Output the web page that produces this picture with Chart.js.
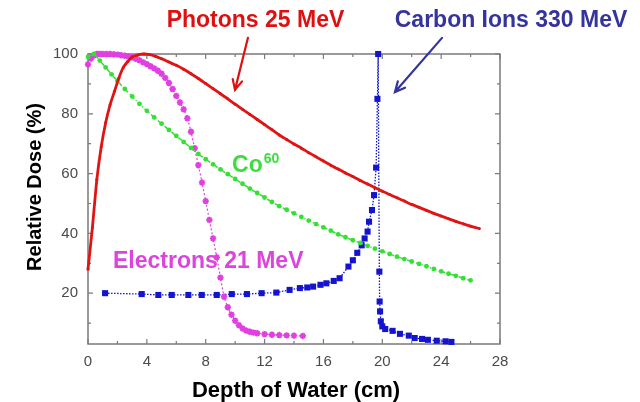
<!DOCTYPE html>
<html>
<head>
<meta charset="utf-8">
<script src="https://cdn.jsdelivr.net/npm/chart.js@4.4.1/dist/chart.umd.min.js"></script>
<style>
  html, body { margin: 0; padding: 0; background: #ffffff; }
  #wrap { width: 640px; height: 402px; position: relative; }
</style>
</head>
<body>
<div id="wrap"><canvas id="depthDose" width="640" height="402"></canvas></div>
<script>
// Depth (cm) and relative dose (%) for each beam
const photonDepth = [0, 0.3, 0.6, 0.9, 1.2, 1.5, 1.8, 2.1, 2.4, 2.7, 3.0, 3.4, 3.8, 4.2, 4.6, 5.0,
  5.5, 6.0, 6.5, 7.0, 7.5, 8.0, 8.5, 9.0, 9.5, 10.0, 10.5, 11.0, 11.5, 12.0, 12.5, 13.0, 13.5, 14.0,
  14.5, 15.0, 15.5, 16.0, 16.5, 17.0, 17.5, 18.0, 18.5, 19.0, 19.5, 20.0, 20.5, 21.0, 21.5, 22.0,
  22.5, 23.0, 23.5, 24.0, 24.5, 25.0, 25.5, 26.0, 26.6];
const photonDose = [28, 42, 58, 69, 77, 83, 87.5, 92, 95.5, 97.5, 99, 99.7, 100, 99.8, 99.2, 98.4,
  97.3, 96.2, 94.9, 93.4, 91.8, 90.1, 88.4, 86.7, 85, 83.2, 81.5, 79.8, 78.1, 76.4, 74.7, 72.9, 71.4, 69.9,
  68.5, 67, 65.6, 64.2, 62.8, 61.5, 60.2, 59, 57.7, 56.5, 55.3, 54.1, 53, 51.9, 50.8, 49.7,
  48.7, 47.7, 46.7, 45.8, 44.9, 44, 43.2, 42.4, 41.6];

const cobaltDepth = [0, 0.4, 0.8, 1.2, 1.6, 2.0, 2.5, 3.0, 3.5, 4.0, 4.5, 5.0, 5.5, 6.0, 6.5, 7.0,
  7.5, 8.0, 8.5, 9.0, 9.5, 10.0, 10.5, 11.0, 11.5, 12.0, 12.5, 13.0, 13.5, 14.0, 14.5, 15.0, 15.5,
  16.0, 16.5, 17.0, 17.5, 18.0, 18.5, 19.0, 19.5, 20.0, 20.5, 21.0, 21.5, 22.0, 22.5, 23.0, 23.5,
  24.0, 24.5, 25.0, 25.5, 26.0];
const cobaltDose = [99, 100, 97.8, 95.5, 93.2, 91, 88.3, 85.8, 83.3, 81, 78.8, 76.7, 74.6, 72.6, 70.6, 68.6,
  66.6, 64.8, 63.1, 61.4, 59.8, 58.2, 56.6, 55, 53.5, 52, 50.5, 49.1, 47.9, 46.7, 45.5, 44.3, 43.1,
  42, 40.9, 39.7, 38.7, 37.7, 36.8, 35.8, 34.9, 34, 33.1, 32.2, 31.4, 30.6, 29.8, 29, 28.1,
  27.3, 26.5, 25.8, 25, 24.3];

const electronDepth = [0, 0.2, 0.4, 0.6, 0.8, 1.0, 1.25, 1.5, 1.75, 2.0, 2.25, 2.5, 2.75, 3.0, 3.25,
  3.5, 3.75, 4.0, 4.25, 4.5, 4.75, 5.0, 5.25, 5.5, 5.75, 6.0, 6.25, 6.5, 6.75, 7.0, 7.25, 7.5, 7.75,
  8.0, 8.25, 8.5, 8.75, 9.0, 9.25, 9.5, 9.75, 10.0, 10.25, 10.5, 10.75, 11.0, 11.25, 11.5, 12.0,
  12.5, 13.0, 13.5, 14.0, 14.6];
const electronDose = [96.5, 98.5, 99.5, 100, 100, 100, 100, 100, 99.9, 99.8, 99.6, 99.4, 99.2, 98.9, 98.4,
  97.9, 97.2, 96.6, 95.9, 95.2, 94.4, 93.4, 92, 90.3, 88.3, 86, 83.8, 81.5, 78.5, 74, 68.5, 62.8, 57,
  50.8, 44.5, 38.3, 32, 25.2, 18.8, 15.3, 12.8, 10.8, 9.3, 8.2, 7.5, 7.1, 6.8, 6.6, 6.3,
  6.1, 6, 5.9, 5.8, 5.7];

const carbonDepth = [1.16, 3.65, 4.78, 5.69, 6.82, 7.73, 8.75, 9.77, 10.8, 11.8, 12.8, 13.7, 14.4,
  14.9, 15.3, 15.8, 16.2, 16.7, 17.1, 17.7, 18.0, 18.3, 18.6, 18.8, 19.0, 19.1, 19.3, 19.44, 19.58,
  19.67, 19.72, 19.8, 19.82, 19.85, 19.9, 20.0, 20.2, 20.7, 21.2, 21.8, 22.2, 22.7, 23.1, 23.7,
  24.3, 24.7];
const carbonDose = [20, 19.7, 19.4, 19.4, 19.4, 19.4, 19.4, 19.7, 19.7, 20, 20.2, 21.1, 21.7,
  21.9, 22.2, 22.8, 23.3, 24.1, 25, 28.9, 31, 33.5, 36, 38.3, 40.6, 43.9, 47.8, 52.8, 62,
  85, 100, 27.2, 17.2, 13.9, 10.6, 8.9, 8, 7.4, 6.4, 5.8, 5, 4.7, 4.4, 4.1,
  3.9, 3.7];

// Axis ticks
const xTickLabels = [0, 4, 8, 12, 16, 20, 24, 28];
const yTickLabels = [20, 40, 60, 80, 100];
const xTickMarks = [0, 2, 4, 6, 8, 10, 12, 14, 16, 18, 20, 22, 24, 26, 28];
const yTickMarks = [10, 20, 30, 40, 50, 60, 70, 80, 90, 100];

const FONT = "'Liberation Sans', Arial, Helvetica, sans-serif";

function pairs(xs, ys) { return xs.map((x, i) => ({ x: x, y: ys[i] })); }

function drawArrow(ctx, x1, y1, x2, y2, color) {
  const ang = Math.atan2(y2 - y1, x2 - x1);
  const head = 11;
  ctx.save();
  ctx.strokeStyle = color;
  ctx.lineWidth = 2.2;
  ctx.lineCap = 'round';
  ctx.beginPath();
  ctx.moveTo(x1, y1);
  ctx.lineTo(x2, y2);
  ctx.moveTo(x2 - head * Math.cos(ang - 0.45), y2 - head * Math.sin(ang - 0.45));
  ctx.lineTo(x2, y2);
  ctx.lineTo(x2 - head * Math.cos(ang + 0.45), y2 - head * Math.sin(ang + 0.45));
  ctx.stroke();
  ctx.restore();
}

// Plot frame with inward tick marks on all four sides
const framePlugin = {
  id: 'frame',
  beforeDatasetsDraw(chart) {
    const { ctx, chartArea: a, scales: { x, y } } = chart;
    ctx.save();
    ctx.strokeStyle = '#7a7a7a';
    ctx.lineWidth = 1.5;
    ctx.strokeRect(a.left, a.top, a.right - a.left, a.bottom - a.top);
    ctx.lineWidth = 1.2;
    ctx.beginPath();
    xTickMarks.forEach(v => {
      const p = x.getPixelForValue(v);
      const len = xTickLabels.includes(v) ? 5 : 3;
      ctx.moveTo(p, a.bottom); ctx.lineTo(p, a.bottom - len);
      ctx.moveTo(p, a.top); ctx.lineTo(p, a.top + len);
    });
    yTickMarks.forEach(v => {
      const p = y.getPixelForValue(v);
      const len = yTickLabels.includes(v) ? 5 : 3;
      ctx.moveTo(a.left, p); ctx.lineTo(a.left + len, p);
      ctx.moveTo(a.right, p); ctx.lineTo(a.right - len, p);
    });
    ctx.stroke();
    ctx.restore();
  }
};

// Beam names, arrows and axis titles
const notesPlugin = {
  id: 'notes',
  afterDraw(chart) {
    const { ctx, chartArea: a, scales: { x, y } } = chart;
    ctx.save();
    ctx.textBaseline = 'alphabetic';

    ctx.font = `bold 23px ${FONT}`;
    ctx.textAlign = 'center';
    ctx.fillStyle = '#dd1111';
    ctx.fillText('Photons 25 MeV', x.getPixelForValue(11.38), y.getPixelForValue(109.1));
    ctx.fillStyle = '#34349c';
    ctx.fillText('Carbon Ions 330 MeV', x.getPixelForValue(28.75), y.getPixelForValue(109.1));

    ctx.textAlign = 'left';
    ctx.fillStyle = '#dd44dd';
    ctx.fillText('Electrons 21 MeV', x.getPixelForValue(1.7), y.getPixelForValue(28.4));

    ctx.fillStyle = '#3ddd3d';
    const cx = x.getPixelForValue(9.79), cy = y.getPixelForValue(60.5);
    ctx.fillText('Co', cx, cy);
    const w = ctx.measureText('Co').width;
    ctx.font = `bold 14px ${FONT}`;
    ctx.fillText('60', cx + w + 1, cy - 9);

    drawArrow(ctx, x.getPixelForValue(10.87), y.getPixelForValue(105.4),
      x.getPixelForValue(9.99), y.getPixelForValue(88.0), '#dd1111');
    drawArrow(ctx, x.getPixelForValue(24.06), y.getPixelForValue(105.4),
      x.getPixelForValue(20.86), y.getPixelForValue(87.3), '#34349c');

    ctx.fillStyle = '#000000';
    ctx.textAlign = 'center';
    ctx.textBaseline = 'middle';
    ctx.font = `bold 22px ${FONT}`;
    ctx.fillText('Depth of Water (cm)', (a.left + a.right) / 2 + 2, 391);
    ctx.font = `bold 20px ${FONT}`;
    ctx.translate(35, a.top + 133);
    ctx.rotate(-Math.PI / 2);
    ctx.fillText('Relative Dose (%)', 0, 0);
    ctx.restore();
  }
};

new Chart(document.getElementById('depthDose'), {
  type: 'line',
  data: {
    datasets: [
      {
        label: 'Photons 25 MeV',
        data: pairs(photonDepth, photonDose),
        borderColor: '#e01414',
        backgroundColor: '#e01414',
        borderWidth: 2.8,
        pointRadius: 1.5,
        pointBorderWidth: 0,
        tension: 0.2,
        clip: false
      },
      {
        label: 'Co60',
        data: pairs(cobaltDepth, cobaltDose),
        borderColor: '#33e033',
        backgroundColor: '#33e033',
        borderWidth: 1.5,
        borderDash: [4, 2, 1, 2],
        pointRadius: 2.4,
        pointBorderWidth: 0,
        tension: 0.2,
        clip: false
      },
      {
        label: 'Electrons 21 MeV',
        data: pairs(electronDepth, electronDose),
        borderColor: '#e040e0',
        backgroundColor: '#e040e0',
        borderWidth: 1.2,
        borderDash: [2, 2],
        pointStyle: 'star',
        pointRadius: 3.2,
        pointBorderWidth: 1.8,
        tension: 0.2,
        clip: false
      },
      {
        label: 'Carbon Ions 330 MeV',
        data: pairs(carbonDepth, carbonDose),
        borderColor: '#1414cc',
        backgroundColor: '#1414cc',
        borderWidth: 1.3,
        borderDash: [1.5, 1.5],
        pointStyle: 'rect',
        pointRadius: 4.3,
        pointBorderWidth: 0,
        tension: 0,
        clip: false
      }
    ]
  },
  options: {
    responsive: false,
    animation: false,
    devicePixelRatio: 1,
    layout: { padding: { top: 54, right: 140, left: 0, bottom: 0 } },
    plugins: { legend: { display: false }, tooltip: { enabled: false } },
    scales: {
      x: {
        type: 'linear',
        min: 0,
        max: 28,
        grid: { display: false, drawTicks: false },
        border: { display: false },
        afterBuildTicks(axis) { axis.ticks = xTickLabels.map(v => ({ value: v })); },
        afterFit(axis) { axis.height = 58; },
        ticks: { color: '#4a4a4a', font: { family: FONT, size: 15 }, padding: 9, maxRotation: 0 }
      },
      y: {
        type: 'linear',
        min: 3,
        max: 100,
        grid: { display: false, drawTicks: false },
        border: { display: false },
        afterBuildTicks(axis) { axis.ticks = yTickLabels.map(v => ({ value: v })); },
        afterFit(axis) { axis.width = 88; },
        ticks: { color: '#4a4a4a', font: { family: FONT, size: 15 }, padding: 10 }
      }
    }
  },
  plugins: [framePlugin, notesPlugin]
});
</script>
</body>
</html>
